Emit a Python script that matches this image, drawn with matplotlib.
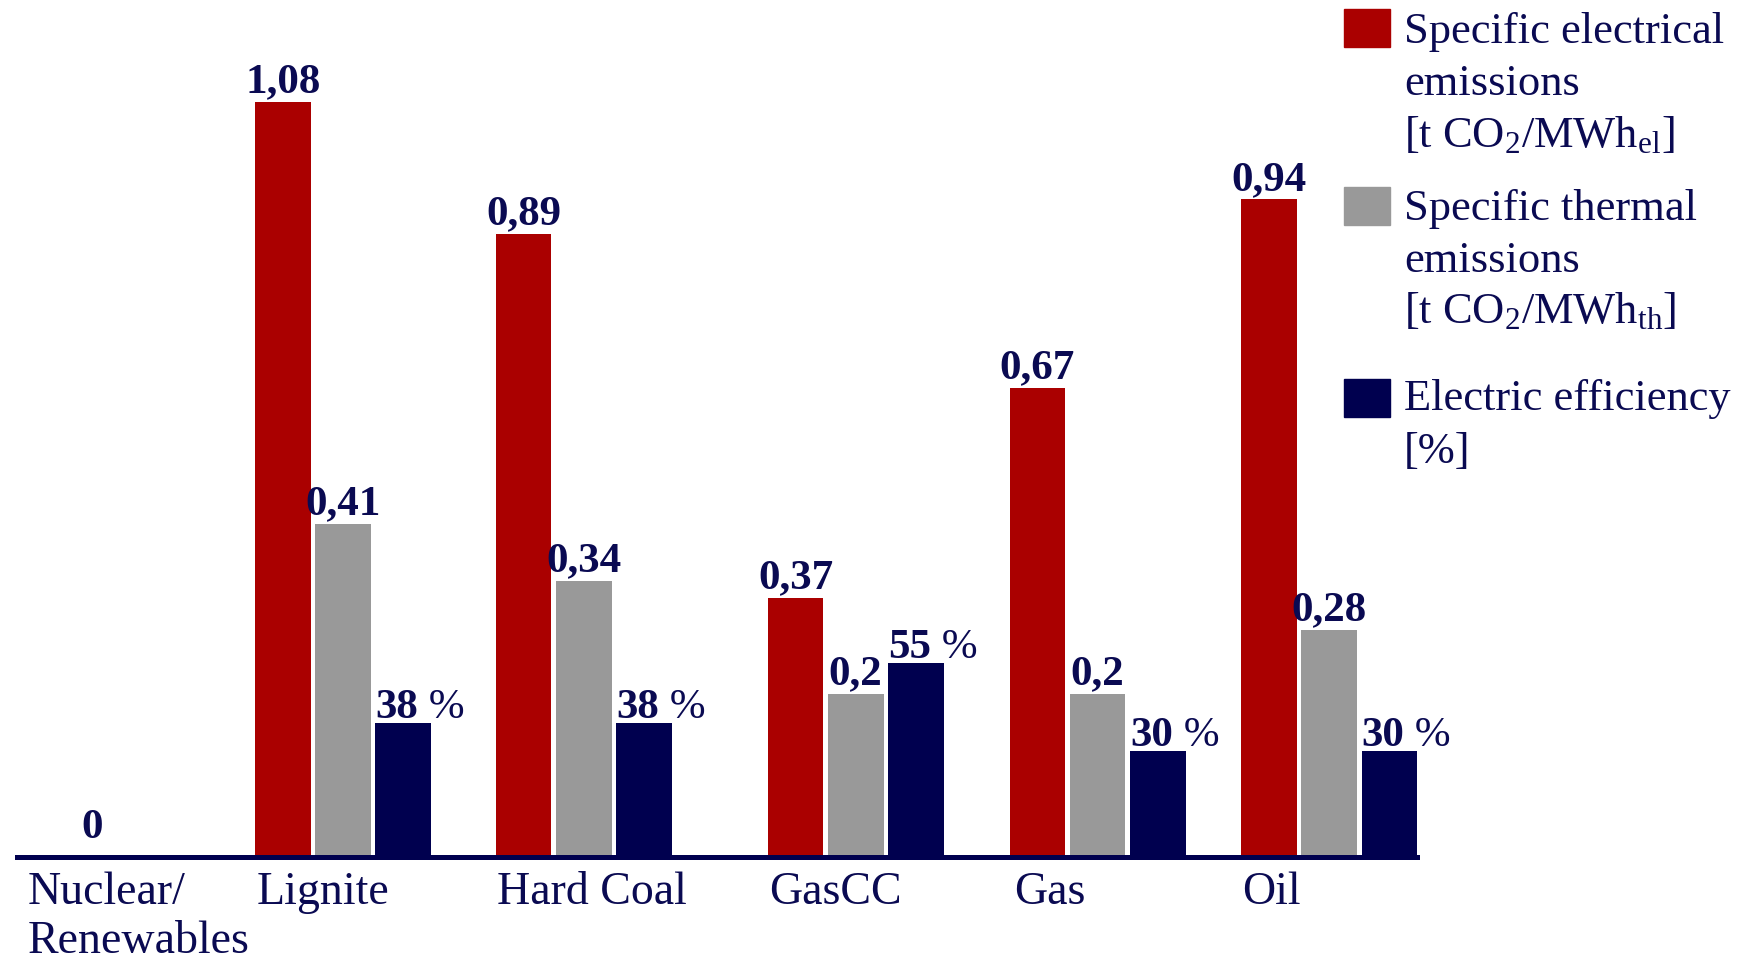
import numpy as np
import matplotlib.pyplot as plt
from matplotlib.patches import Rectangle

plt.rcParams['font.family'] = 'Liberation Serif'
plt.rcParams['mathtext.fontset'] = 'custom'
plt.rcParams['mathtext.rm'] = 'Liberation Serif'
plt.rcParams['mathtext.it'] = 'Liberation Serif:italic'

# emissions per plant type
categories = ['Nuclear/\nRenewables', 'Lignite', 'Hard Coal', 'GasCC', 'Gas', 'Oil']
el_emissions = [0, 1.08, 0.89, 0.37, 0.67, 0.94]   # t CO2 / MWh_el
th_emissions = [0, 0.41, 0.34, 0.2, 0.2, 0.28]     # t CO2 / MWh_th
efficiency = [0, 38, 38, 55, 30, 30]               # %

legend_lines = [
    ['Specific electrical', 'emissions', r'[t CO$_2$/MWh$_{\mathrm{el}}$]'],
    ['Specific thermal', 'emissions', r'[t CO$_2$/MWh$_{\mathrm{th}}$]'],
    ['Electric efficiency', '[%]'],
]

group_x = np.array([-0.02, 1.0, 1.976, 3.079, 4.06, 5.0])
label_x = np.array([-0.28, 0.648, 1.624, 2.727, 3.72, 4.648])
bar_w = 0.226
step = 0.244

red = '#AA0000'
grey = '#999999'
navy = '#00004F'
ink = '#0A0A52'


def fmt(v):
    return str(v).replace('.', ',')


fig = plt.figure(figsize=(17.47, 9.6), dpi=100)
ax = fig.add_axes([0.00957, 0.1078, 0.8017, 0.8922])
ax_th = ax.twinx()
ax_ef = ax.twinx()
for a in (ax, ax_th, ax_ef):
    for s in a.spines.values():
        s.set_visible(False)
    a.set_yticks([])
ax_ef.spines['bottom'].set_visible(True)
ax_ef.spines['bottom'].set_color(navy)
ax_ef.spines['bottom'].set_linewidth(3.6)

ax.set_xlim(-0.324, 5.357)
ax.set_ylim(0, 1.2253)
ax_th.set_ylim(0, 1.0568)
ax_ef.set_ylim(0, 243.3)

ax.bar(group_x - step, el_emissions, bar_w, color=red)
ax_th.bar(group_x, th_emissions, bar_w, color=grey)
ax_ef.bar(group_x + step, efficiency, bar_w, color=navy)

ax.set_xticks(label_x)
ax.set_xticklabels(categories, ha='left', fontsize=33, color=ink, linespacing=1.2)
ax.tick_params(axis='x', length=0, pad=11)

lab = dict(fontsize=31, fontweight='bold', color=ink, va='baseline')
ax.annotate('0', (group_x[0], 0), xytext=(0, 13), textcoords='offset points',
            ha='center', **lab)
for x, v in zip(group_x[1:], el_emissions[1:]):
    ax.annotate(fmt(v), (x - step, v), xytext=(0, 7), textcoords='offset points',
                ha='center', **lab)
for x, v in zip(group_x[1:], th_emissions[1:]):
    ax_th.annotate(fmt(v), (x, v), xytext=(0, 7), textcoords='offset points',
                   ha='center', **lab)
for x, v in zip(group_x[1:], efficiency[1:]):
    t = ax_ef.annotate(str(v), (x + step - bar_w / 2, v), xytext=(0, 3.5),
                       textcoords='offset points', ha='left', **lab)
    ax_ef.annotate(' %', xy=(1, 0), xycoords=t, ha='left', va='bottom',
                   fontsize=31, color=ink)

# legend drawn by hand: colour box plus stacked lines of text
W, H = 1747.0, 960.0
box_tops = [9, 187, 379]
baselines = [[43, 95, 147], [220, 272, 323], [410, 463]]
for colr, top, lines, ys in zip([red, grey, navy], box_tops, legend_lines, baselines):
    fig.patches.append(Rectangle((1344 / W, 1 - (top + 38) / H), 46 / W, 38 / H,
                                 transform=fig.transFigure, color=colr))
    for line, y in zip(lines, ys):
        fig.text(1404 / W, 1 - y / H, line, fontsize=32, color=ink, va='baseline')

fig.savefig('out.png', dpi=100)
